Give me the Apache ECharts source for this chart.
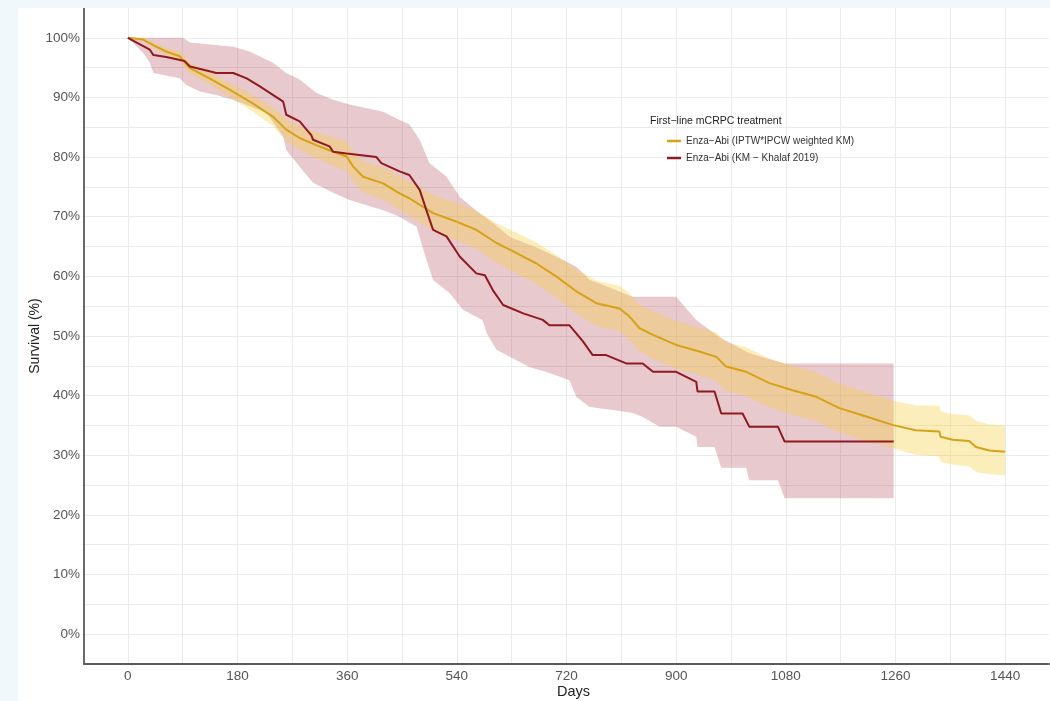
<!DOCTYPE html>
<html>
<head>
<meta charset="utf-8">
<script src="https://cdn.jsdelivr.net/npm/echarts@6/dist/echarts.min.js"></script>
<style>
  html, body { margin: 0; padding: 0; background: #f1f8fc; width: 1050px; height: 701px; overflow: hidden; }
  #chart { position: absolute; left: 18px; top: 8px; width: 1032px; height: 693px; background: #ffffff; }
</style>
</head>
<body>
<div id="chart"></div>
<script>
// ---------- data ----------
// Enza-Abi (IPTW*IPCW weighted KM): survival and confidence band
const ipDays  = [0, 25, 47, 63, 85, 102, 134, 172, 205, 238, 260, 282, 309, 337, 359, 370, 386, 419, 446, 462, 501, 539, 572, 605, 638, 670, 703, 736, 769, 807, 823, 840, 862, 900, 938, 966, 982, 1015, 1053, 1091, 1130, 1168, 1212, 1255, 1293, 1332, 1334, 1354, 1381, 1392, 1414, 1440];
const ipSurv  = [100, 99.7, 98.5, 97.7, 96.9, 94.9, 93.2, 91.0, 89.0, 86.8, 84.6, 83.2, 82.0, 80.9, 80.1, 78.4, 76.7, 75.6, 73.9, 73.1, 70.6, 69.2, 67.8, 65.6, 63.9, 62.2, 60.0, 57.5, 55.5, 54.6, 53.3, 51.3, 50.2, 48.5, 47.4, 46.5, 44.9, 44.0, 42.1, 40.9, 39.8, 37.9, 36.5, 35.1, 34.2, 34.0, 33.1, 32.6, 32.4, 31.4, 30.8, 30.6];
const ipLower = [100, 99.4, 98.0, 97.1, 96.1, 94.0, 92.2, 89.8, 87.6, 85.2, 82.8, 81.2, 79.8, 78.5, 77.6, 75.9, 74.1, 72.9, 71.1, 70.2, 67.6, 66.1, 64.6, 62.3, 60.5, 58.7, 56.4, 53.8, 51.7, 50.8, 49.4, 47.4, 46.2, 44.5, 43.4, 42.4, 40.8, 39.9, 38.0, 36.8, 35.7, 33.8, 32.4, 31.2, 30.1, 29.8, 28.9, 28.4, 28.1, 27.2, 26.8, 26.6];
const ipUpper = [100, 100, 99.0, 98.3, 97.7, 95.8, 94.2, 92.2, 90.4, 88.4, 86.4, 85.2, 84.2, 83.3, 82.6, 80.9, 79.3, 78.3, 76.7, 76.0, 73.6, 72.3, 71.0, 68.9, 67.3, 65.7, 63.6, 61.2, 59.3, 58.4, 57.2, 55.2, 54.2, 52.5, 51.4, 50.6, 49.0, 48.1, 46.2, 45.0, 43.9, 42.0, 40.6, 39.2, 38.4, 38.3, 37.4, 36.9, 36.7, 35.8, 35.2, 35.0];

// Enza-Abi (KM - Khalaf 2019): survival (corner points of the steps) and confidence band
const kmDays = [0, 36, 42, 63, 93, 102, 134, 145, 173, 195, 216, 255, 260, 282, 301, 304, 331, 337, 359, 408, 416, 446, 462, 479, 490, 501, 523, 545, 572, 586, 599, 616, 649, 681, 692, 725, 747, 763, 785, 818, 845, 862, 900, 933, 935, 963, 974, 1009, 1020, 1067, 1078, 1257];
const kmSurv = [100, 98.0, 97.1, 96.8, 96.1, 95.2, 94.4, 94.1, 94.1, 93.2, 91.9, 89.3, 87.1, 86.0, 83.7, 82.9, 81.8, 80.9, 80.6, 80.0, 79.0, 77.6, 77.0, 74.5, 71.1, 67.8, 66.7, 63.3, 60.5, 60.2, 57.7, 55.2, 53.8, 52.7, 51.8, 51.8, 49.1, 46.8, 46.8, 45.4, 45.4, 44.0, 44.0, 42.3, 40.7, 40.7, 37.0, 37.0, 34.8, 34.8, 32.3, 32.3];
const kmLowDays = [0, 5, 25, 36, 42, 85, 96, 118, 145, 172, 189, 228, 255, 260, 282, 304, 337, 364, 419, 446, 474, 490, 501, 528, 550, 582, 589, 605, 627, 659, 692, 725, 736, 758, 796, 829, 845, 873, 900, 933, 935, 963, 974, 1015, 1020, 1067, 1078, 1257];
const kmLower   = [100, 99.5, 97.5, 95.8, 94.1, 93.2, 92.1, 91.0, 90.4, 89.6, 89.0, 87.4, 83.4, 81.2, 78.4, 75.7, 74.0, 72.8, 71.1, 70.0, 68.3, 62.8, 59.4, 57.2, 54.4, 52.7, 50.5, 47.7, 46.5, 44.8, 43.8, 42.6, 39.8, 38.1, 37.6, 37.1, 36.4, 34.8, 34.8, 33.1, 31.4, 31.4, 27.9, 27.9, 25.8, 25.8, 22.8, 22.8];
const kmUpDays  = [0, 90, 102, 173, 200, 238, 260, 282, 309, 337, 364, 419, 446, 462, 479, 495, 523, 545, 572, 599, 627, 670, 714, 736, 758, 774, 828, 900, 933, 971, 1020, 1078, 1257];
const kmUpper   = [100, 100, 99.2, 98.5, 97.7, 95.8, 94.1, 93.0, 90.8, 89.6, 88.8, 87.6, 86.2, 85.5, 82.9, 79.0, 76.7, 73.3, 71.0, 69.0, 66.6, 64.9, 62.8, 61.6, 59.4, 58.8, 56.6, 56.6, 52.7, 49.8, 47.1, 45.4, 45.4];

// axis ticks
const xTicks = [0, 180, 360, 540, 720, 900, 1080, 1260, 1440];
const xMinor = [90, 270, 450, 630, 810, 990, 1170, 1350];
const yTicks = [0, 10, 20, 30, 40, 50, 60, 70, 80, 90, 100];
const yMinor = [5, 15, 25, 35, 45, 55, 65, 75, 85, 95];

const nameIP = 'Enza\u2212Abi (IPTW*IPCW weighted KM)';
const nameKM = 'Enza\u2212Abi (KM \u2212 Khalaf 2019)';

// ---------- helpers ----------
function zip(a, b) { return a.map((v, i) => [v, b[i]]); }
function bandSeries(name, upX, upV, loX, loV, fill, z) {
  return {
    type: 'custom', name: name, z: z, silent: true, clip: true,
    data: [[0, 100]],
    encode: { x: 0, y: 1 },
    renderItem: function (params, api) {
      const up = zip(upX, upV).map(p => api.coord(p));
      const lo = zip(loX, loV).map(p => api.coord(p)).reverse();
      return { type: 'polygon', shape: { points: up.concat(lo) }, style: { fill: fill } };
    },
    animation: false
  };
}

const gridLines = [];
xTicks.concat(xMinor).forEach(v => gridLines.push({ xAxis: v }));
yTicks.concat(yMinor).forEach(v => gridLines.push({ yAxis: v }));

const font = 'Liberation Sans, Arial, Helvetica, sans-serif';

const chart = echarts.init(document.getElementById('chart'), null, { renderer: 'canvas' });
chart.setOption({
  animation: false,
  backgroundColor: '#ffffff',
  textStyle: { fontFamily: font },
  grid: { left: 66, right: 1, top: 0, bottom: 37, containLabel: false, outerBoundsMode: 'none' },
  xAxis: {
    type: 'value', min: -72, max: 1512, interval: 18, z: 10,
    name: 'Days', nameLocation: 'middle', nameGap: 20, nameMoveOverlap: false,
    nameTextStyle: { fontSize: 14.5, color: '#222', fontFamily: font, padding: [0, 0, 0, 14] },
    axisLine: { show: true, onZero: false, lineStyle: { color: '#5a5a5a', width: 1.8 } },
    axisTick: { show: false },
    splitLine: { show: false },
    axisLabel: {
      margin: 5, fontSize: 13.5, color: '#555', fontFamily: font,
      formatter: function (v) { const r = Math.round(v); return xTicks.indexOf(r) >= 0 ? String(r) : ''; }
    }
  },
  yAxis: {
    type: 'value', min: -5, max: 105, interval: 5, z: 10,
    name: 'Survival (%)', nameLocation: 'middle', nameGap: 42, nameRotate: 90, nameMoveOverlap: false,
    nameTextStyle: { fontSize: 14, color: '#222', fontFamily: font },
    axisLine: { show: true, onZero: false, lineStyle: { color: '#5a5a5a', width: 1.8 } },
    axisTick: { show: false },
    splitLine: { show: false },
    axisLabel: {
      margin: 4, fontSize: 13.5, color: '#555', fontFamily: font,
      formatter: function (v) { const r = Math.round(v); return yTicks.indexOf(r) >= 0 ? r + '%' : ''; }
    }
  },
  legend: {
    data: [nameIP, nameKM], z: 20,
    orient: 'vertical', left: 644, top: 122,
    icon: 'rect', itemWidth: 14, itemHeight: 2.5, itemGap: 5,
    textStyle: { fontSize: 10, color: '#333', lineHeight: 12, fontFamily: font },
    selectedMode: false
  },
  graphic: [{
    type: 'text', left: 632, top: 108, z: 20,
    style: { text: 'First\u2212line mCRPC treatment', fontSize: 10.5, fill: '#222', font: '10.5px ' + font }
  }],
  series: [
    {
      type: 'line', name: 'grid', data: [[0, 50]], symbol: 'none', z: 0,
      lineStyle: { opacity: 0 }, silent: true,
      markLine: {
        z: 0, silent: true, symbol: ['none', 'none'], label: { show: false },
        lineStyle: { type: 'solid', color: '#ebebeb', width: 1 },
        emphasis: { disabled: true },
        data: gridLines, animation: false
      }
    },
    bandSeries('kmBand', kmUpDays, kmUpper, kmLowDays, kmLower, 'rgba(165,40,60,0.25)', 1),
    bandSeries('ipBand', ipDays, ipUpper, ipDays, ipLower, 'rgba(245,205,60,0.35)', 2),
    {
      type: 'line', name: nameIP, data: zip(ipDays, ipSurv),
      showSymbol: false, symbol: 'none', z: 4,
      itemStyle: { color: '#d6a217' },
      lineStyle: { color: '#d6a217', width: 2 }
    },
    {
      type: 'line', name: nameKM, data: zip(kmDays, kmSurv),
      showSymbol: false, symbol: 'none', z: 5,
      itemStyle: { color: '#8f1a1f' },
      lineStyle: { color: '#8f1a1f', width: 2 }
    }
  ]
});
</script>
</body>
</html>
